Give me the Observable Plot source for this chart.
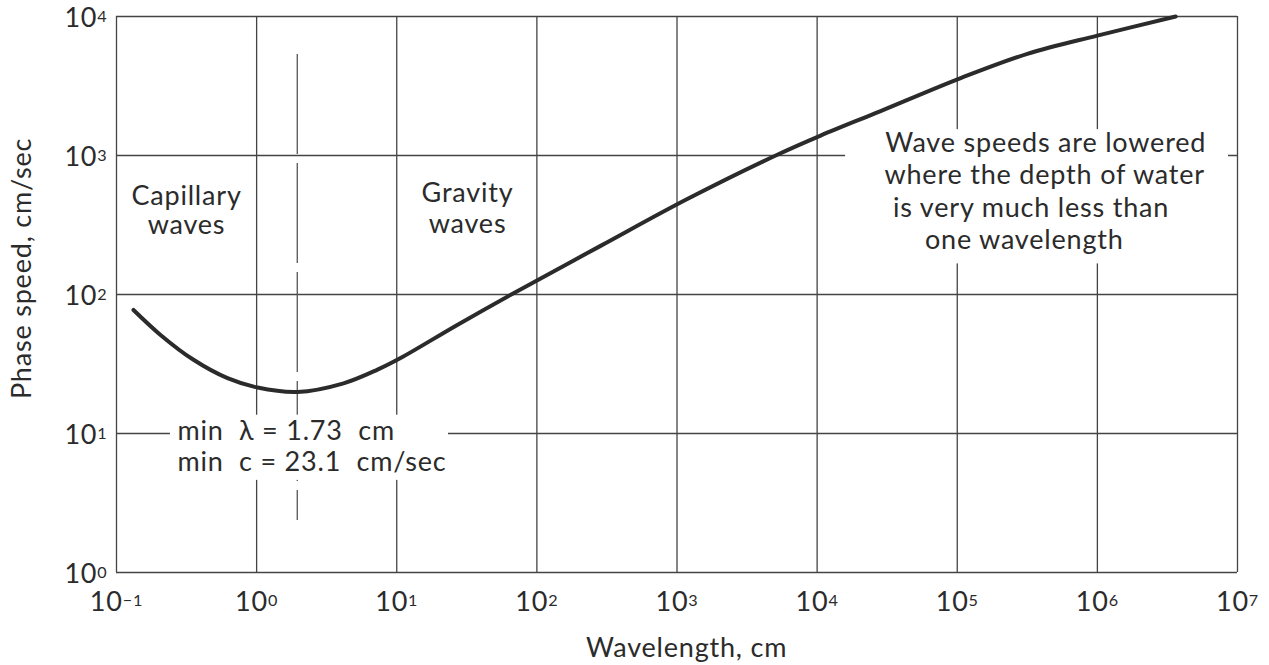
<!DOCTYPE html>
<html><head><meta charset="utf-8">
<script src="https://cdn.jsdelivr.net/npm/d3@7"></script>
<script src="https://cdn.jsdelivr.net/npm/@observablehq/plot@0.6"></script>
<style>body{margin:0;background:#fff;} svg text{letter-spacing:0.8px;}</style>
</head><body><div id="chart"></div>
<script>
// Curve (wavelength in cm, phase speed in cm/sec)
const wavelength = [0.1322, 0.2061, 0.3544, 0.6199, 1.015, 1.958, 4.172, 7.294, 10.64, 27.03, 68.2, 284.9, 1184, 5200, 10593, 28400, 105800, 316500, 1.0e6, 3.623e6];
const speed      = [77.4, 51.2, 33.9, 25.0, 21.4, 19.9, 22.96, 28.8, 34.9, 60.4, 102.2, 223.8, 486, 1013, 1391, 2088, 3607, 5389, 7290, 10000];

const xTicks = [0.1, 1, 10, 100, 1e3, 1e4, 1e5, 1e6, 1e7];
const xTickLabels = ["10^\u22121", "10^0", "10^1", "10^2", "10^3", "10^4", "10^5", "10^6", "10^7"];
const yTicks = [1, 10, 100, 1e3, 1e4];
const yTickLabels = ["10^0", "10^1", "10^2", "10^3", "10^4"];

const minWavelength = [1.95];
const dashSpan = [5320, 2.37];

// white boxes behind annotation text (data units)
const boxX1 = [0.2427, 15960];
const boxX2 = [23.4, 8.63e6];
const boxY1 = [13.54, 1535];
const boxY2 = [4.60, 166];

const noteTexts = [
  "Capillary\nwaves",
  "Gravity\nwaves",
  "min  \u03bb = 1.73  cm\nmin  c = 23.1  cm/sec",
  "Wave speeds are lowered",
  "where the depth of water",
  "is very much less than",
  "one wavelength"
];
const noteX = [0.316, 32.0, 0.272, 427600, 420700, 336500, 300600];
const noteY = [406, 421, 8.13, 1218, 720.3, 414.7, 245.2];
const noteAnchor = ["middle", "middle", "start", "middle", "middle", "middle", "middle"];
const noteLineHeight = [1.11, 1.137, 1.137, 1, 1, 1, 1];

const xLabel = "Wavelength, cm";
const xLabelAt = [1170];
const yLabel = "Phase speed, cm/sec";
const yLabelAt = [154];

const curve = wavelength.map((w, i) => ({w, c: speed[i]}));
const boxes = boxX1.map((x1, i) => ({x1, x2: boxX2[i], y1: boxY1[i], y2: boxY2[i]}));
const notes = noteTexts.map((t, i) => ({t, x: noteX[i], y: noteY[i], a: noteAnchor[i], lh: noteLineHeight[i]}));

const ink = "#2b2b2b";
const grid = "#444";

const plot = Plot.plot({
  width: 1269, height: 665,
  marginLeft: 116, marginRight: 32, marginTop: 16, marginBottom: 93,
  x: {type: "log", domain: [0.1, 1e7]},
  y: {type: "log", domain: [1, 1e4]},
  style: {fontFamily: "Lato, sans-serif", fontSize: "27px", color: ink, background: "#fff"},
  marks: [
    Plot.ruleX(xTicks, {stroke: grid, strokeWidth: 1.3}),
    Plot.ruleY(yTicks, {stroke: grid, strokeWidth: 1.3}),
    Plot.ruleX(minWavelength, {x: d => d, y1: dashSpan[0], y2: dashSpan[1], stroke: "#555", strokeWidth: 1.3, strokeDasharray: "100,9"}),
    Plot.rect(boxes, {x1: "x1", x2: "x2", y1: "y1", y2: "y2", fill: "#fff"}),
    Plot.line(curve, {x: "w", y: "c", curve: "catmull-rom", stroke: ink, strokeWidth: 4}),
    ...notes.map(n => Plot.text([n], {x: "x", y: "y", text: "t", textAnchor: n.a, lineAnchor: "middle", lineHeight: n.lh, fill: ink})),
    Plot.text([xLabel], {x: xLabelAt, text: d => d, frameAnchor: "bottom", lineAnchor: "middle", textAnchor: "middle", dy: 75.5, fill: ink}),
    Plot.text([yLabel], {y: yLabelAt, text: d => d, frameAnchor: "left", lineAnchor: "middle", textAnchor: "middle", dx: -94, rotate: -90, fill: ink}),
    Plot.axisX(xTicks, {tickSize: 0, tickPadding: 19, tickFormat: d => xTickLabels[xTicks.indexOf(d)], label: null, fill: ink}),
    Plot.axisY(yTicks, {tickSize: 0, tickPadding: 9, dy: 2, tickFormat: d => yTickLabels[yTicks.indexOf(d)], label: null, fill: ink})
  ]
});

// turn "10^n" into base + raised exponent
const ns = "http://www.w3.org/2000/svg";
plot.querySelectorAll("text").forEach(t => {
  const s = t.textContent;
  if (!s.includes("^") || t.querySelector("tspan")) return;
  const [b, e] = s.split("^");
  t.textContent = "";
  const t1 = document.createElementNS(ns, "tspan"); t1.textContent = b;
  const t2 = document.createElementNS(ns, "tspan"); t2.textContent = e;
  t2.setAttribute("dy", "-0.3em"); t2.setAttribute("font-size", "0.6em");
  t.appendChild(t1); t.appendChild(t2);
});
document.getElementById("chart").appendChild(plot);
</script>
</body></html>
